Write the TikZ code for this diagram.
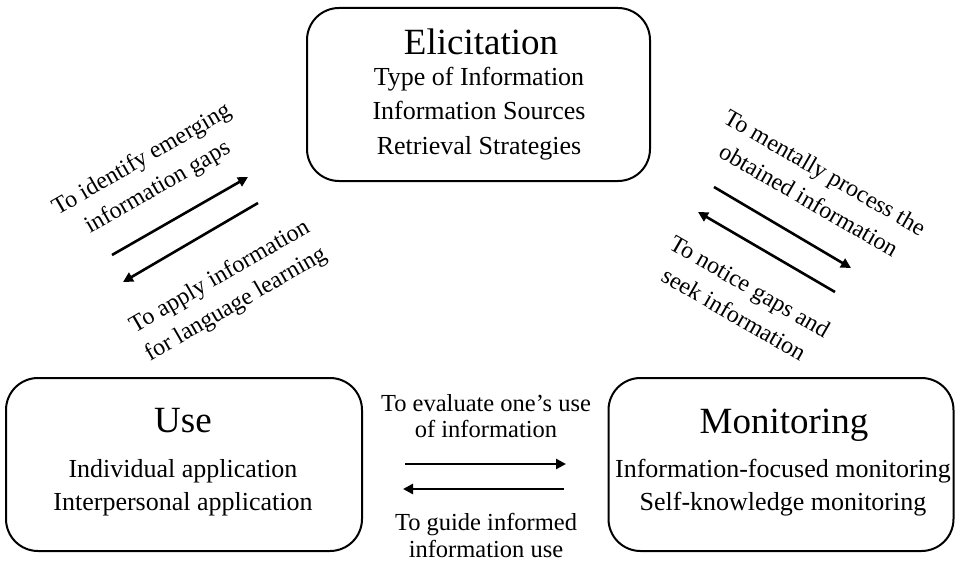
\documentclass[tikz,border=0pt]{standalone}
\usepackage{fontspec}
\setmainfont{Liberation Serif}
\usetikzlibrary{arrows.meta}
\begin{document}
\begin{tikzpicture}[x=1pt,y=-1pt,
  phase/.style={draw, line width=2pt, rounded corners=32pt, inner sep=0pt},
  title/.style={anchor=base, inner sep=0pt, font=\fontsize{37}{40}\selectfont},
  item/.style={anchor=base, inner sep=0pt, font=\fontsize{26}{30}\selectfont},
  cue/.style={anchor=base, inner sep=0pt, font=\fontsize{24.5}{26}\selectfont},
  slant/.style={align=center, inner sep=0pt, font=\fontsize{24}{32}\selectfont},
  flow/.style={line width=2.6pt, -{Triangle[length=10pt,width=10pt]}}]
\useasboundingbox (0,0) rectangle (956,567);

% the three phases
\node[phase, minimum width=343pt, minimum height=173pt] (elic) at (478.5,94.5) {};
\node[title] (elicT) at (481,55) {Elicitation};
\node[item] (elic1) at (479,86) {Type of Information};
\node[item] (elic2) at (479,120) {Information Sources};
\node[item] (elic3) at (479,154) {Retrieval Strategies};

\node[phase, minimum width=356pt, minimum height=173pt] (use) at (184,464.5) {};
\node[title] (useT) at (183,432) {Use};
\node[item] (use1) at (183,477) {Individual application};
\node[item] (use2) at (183,510) {Interpersonal application};

\node[phase, minimum width=345pt, minimum height=173pt] (mon) at (781,464.5) {};
\node[title] (monT) at (784,433) {Monitoring};
\node[item] (mon1) at (783,477) {Information-focused monitoring};
\node[item] (mon2) at (783,510) {Self-knowledge monitoring};

% end points of the transition arrows
\coordinate (a1s) at (112,255); \coordinate (a1e) at (248,177);
\coordinate (a2s) at (258,203); \coordinate (a2e) at (123,282);
\coordinate (b1s) at (714,187); \coordinate (b1e) at (851,268);
\coordinate (b2s) at (835,292); \coordinate (b2e) at (698,212);
\coordinate (c1s) at (405,464); \coordinate (c1e) at (566,464);
\coordinate (c2s) at (564,489); \coordinate (c2e) at (403,489);

\draw[flow] (a1s) -- (a1e);
\draw[flow] (a2s) -- (a2e);
\draw[flow] (b1s) -- (b1e);
\draw[flow] (b2s) -- (b2e);
\draw[flow] (c1s) -- (c1e);
\draw[flow] (c2s) -- (c2e);

% transition labels
\node[slant, rotate=30] (la1) at (150,174) {To identify emerging\\information gaps};
\node[slant, rotate=30] (la2) at (228,291) {To apply information\\for language learning};
\node[slant, rotate=-30] (lb1) at (817,186) {To mentally process the\\obtained information};
\node[slant, rotate=-30] (lb2) at (742,300) {To notice gaps and\\seek information};

\node[cue] (lc1a) at (486,411) {To evaluate one’s use};
\node[cue] (lc1b) at (486,437) {of information};
\node[cue] (lc2a) at (486,530) {To guide informed};
\node[cue] (lc2b) at (486,557) {information use};
\end{tikzpicture}
\end{document}
